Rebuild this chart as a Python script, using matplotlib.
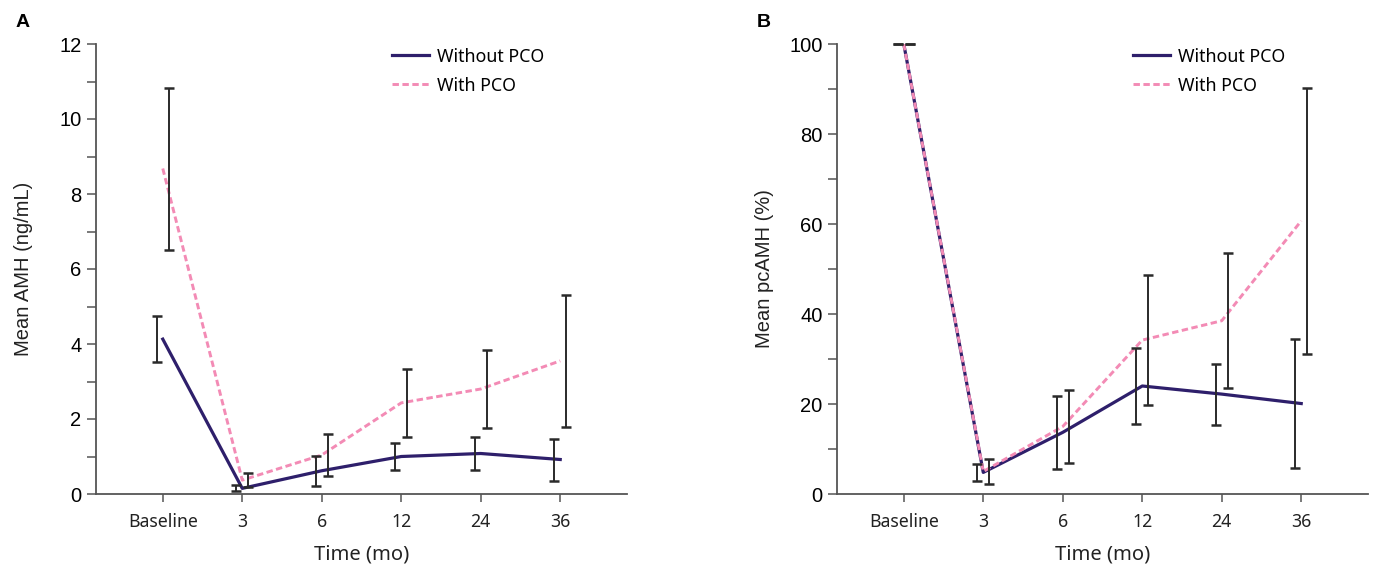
import numpy as np
import matplotlib
matplotlib.use("Agg")
import matplotlib.pyplot as plt

# time points (categorical x axis)
timepoints = ["Baseline", "3", "6", "12", "24", "36"]

# panel A: mean AMH (ng/mL) with error bar half-widths
amh_without = [4.13, 0.15, 0.62, 1.00, 1.08, 0.92]
amh_without_err = [0.61, 0.08, 0.40, 0.37, 0.45, 0.56]
amh_with = [8.68, 0.37, 1.04, 2.43, 2.80, 3.55]
amh_with_err = [2.16, 0.18, 0.57, 0.90, 1.05, 1.75]

# panel B: mean pcAMH (%) with error bar half-widths
pc_without = [100, 4.8, 13.7, 24.0, 22.2, 20.1]
pc_without_err = [0, 1.9, 8.1, 8.5, 6.8, 14.3]
pc_with = [100, 5.0, 15.0, 34.2, 38.5, 60.7]
pc_with_err = [0, 2.8, 8.2, 14.4, 15.0, 29.6]

PURPLE = "#2e1f6b"
PINK = "#f38bb5"
BAR = "#2a2a2a"
SPINE = "#555555"

fig = plt.figure(figsize=(13.73, 5.66), dpi=100)
axA = fig.add_axes([96/1373, 1-494/566, 531/1373, 450/566])
axB = fig.add_axes([837/1373, 1-494/566, 531/1373, 450/566])

def draw_panel(ax, y1, e1, y2, e2, ymax, major, minor, ylabel):
    x = np.arange(len(timepoints))
    ax.plot(x, y1, color=PURPLE, lw=2.3, label="Without PCO", zorder=2)
    ax.plot(x, y2, color=PINK, lw=2.1, ls=(0, (2.2, 1.2)), label="With PCO", zorder=2.5)
    ax.errorbar(x - 0.075, y1, yerr=e1, fmt="none", ecolor=BAR, elinewidth=1.4,
                capsize=3.3, capthick=1.8, zorder=3, clip_on=False)
    ax.errorbar(x + 0.075, y2, yerr=e2, fmt="none", ecolor=BAR, elinewidth=1.4,
                capsize=3.3, capthick=1.8, zorder=3, clip_on=False)
    ax.set_xlim(-0.84, 5.84)
    ax.set_ylim(0, ymax)
    ax.set_xticks(x)
    ax.set_xticklabels(timepoints)
    ax.set_yticks(np.arange(0, ymax + 0.01, major))
    ax.set_yticks(np.arange(minor, ymax, major), minor=True)
    for s in ["top", "right"]:
        ax.spines[s].set_visible(False)
    for s in ["left", "bottom"]:
        ax.spines[s].set_color(SPINE)
        ax.spines[s].set_linewidth(1.3)
    ax.tick_params(axis="y", which="both", length=6.5, width=1.1, color=SPINE,
                   labelsize=14.5, labelfontfamily="Liberation Sans", pad=4)
    ax.tick_params(axis="x", length=5.8, width=1.1, color=SPINE,
                   labelsize=12.7, labelfontfamily="Noto Sans", pad=8, labelcolor="#222222")
    ax.set_ylabel(ylabel, fontsize=14.5, family="Liberation Sans", color="#222222")
    ax.yaxis.set_label_coords(-0.118, 0.5)
    ax.set_xlabel("Time (mo)", fontsize=14.5, family="Noto Sans", color="#222222")
    ax.xaxis.set_label_coords(0.5, -0.112)
    ax.legend(loc="upper left", bbox_to_anchor=(0.557, 0.992), frameon=False,
              prop={"family": "Noto Sans", "size": 12.8}, handlelength=2.1,
              handletextpad=0.45, labelspacing=0.62, borderpad=0, borderaxespad=0)

draw_panel(axA, amh_without, amh_without_err, amh_with, amh_with_err,
           12, 2, 1, "Mean AMH (ng/mL)")
draw_panel(axB, pc_without, pc_without_err, pc_with, pc_with_err,
           100, 20, 10, "Mean pcAMH (%)")

fig.text(16/1373, 1-14/566, "A", fontsize=14, fontweight="bold",
         family="Liberation Sans", va="top", ha="left")
fig.text(757/1373, 1-14/566, "B", fontsize=14, fontweight="bold",
         family="Liberation Sans", va="top", ha="left")

fig.savefig("out.png", dpi=100)
